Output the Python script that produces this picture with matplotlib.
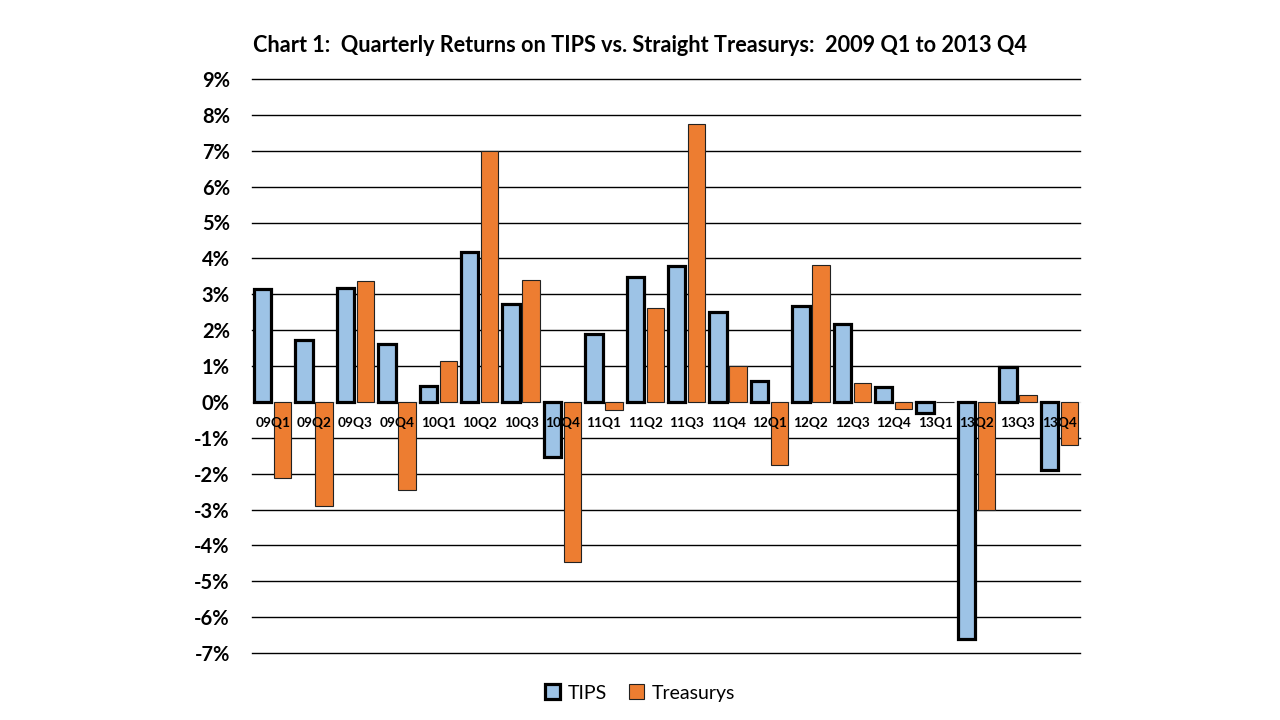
import matplotlib
matplotlib.use("Agg")
import matplotlib.pyplot as plt
import numpy as np

quarters = ["09Q1", "09Q2", "09Q3", "09Q4", "10Q1", "10Q2", "10Q3", "10Q4",
            "11Q1", "11Q2", "11Q3", "11Q4", "12Q1", "12Q2", "12Q3", "12Q4",
            "13Q1", "13Q2", "13Q3", "13Q4"]
tips = [3.15, 1.72, 3.18, 1.60, 0.44, 4.17, 2.72, -1.55,
        1.88, 3.47, 3.80, 2.50, 0.58, 2.66, 2.18, 0.41,
        -0.32, -6.60, 0.96, -1.90]
treasurys = [-2.13, -2.90, 3.36, -2.46, 1.15, 7.00, 3.40, -4.47,
             -0.23, 2.63, 7.75, 1.01, -1.77, 3.82, 0.54, -0.19,
             0.0, -3.00, 0.18, -1.19]
yticks = list(range(-7, 10))

FONT = ["Lato", "DejaVu Sans"]
plt.rcParams["font.family"] = FONT

fig = plt.figure(figsize=(12.8, 7.2), dpi=100)
ax = fig.add_axes([252/1280, 1-653/720, (1080-252)/1280, (653-79)/720])

x = np.arange(len(quarters))
w = 0.42
off = 0.24
b1 = ax.bar(x - off, tips, w, color="#9DC3E6", edgecolor="black", linewidth=2.3,
            label="TIPS", zorder=3)
b2 = ax.bar(x + off, treasurys, w, color="#ED7D31", edgecolor="#222222", linewidth=0.8,
            label="Treasurys", zorder=3)

ax.set_xlim(-0.5, len(quarters) - 0.5)
ax.set_ylim(-7, 9)
ax.set_yticks(yticks)
ax.set_yticklabels([f"{v}%" for v in yticks], fontsize=14.5, fontweight="bold")
ax.tick_params(axis="y", length=0, pad=16)
ax.set_xticks([])
ax.yaxis.grid(True, color="black", linewidth=1.0, zorder=0)
ax.set_axisbelow(True)
for v, t in zip(yticks, ax.yaxis.get_major_ticks()):
    t.gridline.set_clip_on(False)
    if v == 0:
        t.gridline.set_color("#e6e6e6")
for s in ax.spines.values():
    s.set_visible(False)

for xi, q in zip(x, quarters):
    ax.text(xi, -0.58, q, ha="center", va="center", fontsize=9.8,
            fontweight="bold", zorder=5)

fig.text(0.5, 1-45/720, "Chart 1:  Quarterly Returns on TIPS vs. Straight Treasurys:  2009 Q1 to 2013 Q4",
         ha="center", va="center", fontsize=15.6, fontweight="bold")

fig.legend(handles=[b1, b2], loc="center", bbox_to_anchor=(0.5, 1-693/720),
           ncol=2, frameon=False, fontsize=14, handlelength=0.8, handleheight=0.8,
           columnspacing=1.1, handletextpad=0.4)

fig.savefig("out.png", dpi=100)
